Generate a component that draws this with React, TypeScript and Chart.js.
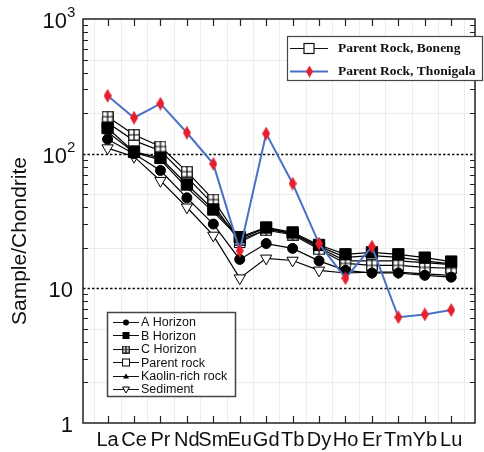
import React, { useEffect, useRef } from "react";
import { Chart, registerables } from "chart.js";

Chart.register(...registerables);

const elements = ["La", "Ce", "Pr", "Nd", "Sm", "Eu", "Gd", "Tb", "Dy", "Ho", "Er", "Tm", "Yb", "Lu"];

const aHorizon = [128, 100, 75, 47, 30, 16.4, 21.5, 19.8, 16, 13.6, 13, 13, 12.5, 12.1];
const bHorizon = [155, 103, 93, 59, 38.5, 24, 28.3, 26, 21, 17.9, 18.5, 17.9, 16.9, 15.8];
const cHorizon = [188, 138, 113, 73.5, 45.6, 23, 27, 25, 19.5, 15.3, 14.8, 14.8, 14.3, 14.1];
const parentRock = [170, 125, 105, 67, 42, 22, 27.5, 25.5, 20, 16, 16, 16, 15.5, 15];
const kaolinRich = [145, 102, 90, 56, 37, 23.5, 28, 25.5, 20.5, 17, 17.5, 17, 16, 15.2];
const sediment = [110, 95, 63, 40, 24.7, 11.9, 16.7, 16.1, 13.6, 13, 13.2, 13.2, 12.8, 12.5];
const thonigala = [269, 185, 235, 143, 84, 19, 141, 60, 21.5, 11.9, 20.4, 6.1, 6.4, 6.9];

const yTickValues = [1, 10, 100, 1000];
const yTickBases = ["1", "10", "10", "10"];
const yTickSups = ["", "", "2", "3"];
const dottedLevels = [10, 100];

const legend1Labels = ["Parent Rock, Boneng", "Parent Rock, Thonigala"];
const legend2Labels = ["A Horizon", "B Horizon", "C Horizon", "Parent rock", "Kaolin-rich rock", "Sediment"];

const BLUE = "rgb(74,114,196)";
const RED = "rgb(232,30,45)";

function makeCanvas(w: number, h: number, draw: (c: CanvasRenderingContext2D) => void) {
  const c = document.createElement("canvas");
  c.width = w;
  c.height = h;
  const ctx = c.getContext("2d")!;
  draw(ctx);
  return c;
}

function diamond(w: number, h: number) {
  return makeCanvas(w, h, (c) => {
    c.fillStyle = RED;
    c.beginPath();
    c.moveTo(w / 2, 0);
    c.lineTo(w, h / 2);
    c.lineTo(w / 2, h);
    c.lineTo(0, h / 2);
    c.closePath();
    c.fill();
  });
}

function crossSquare(s: number) {
  return makeCanvas(s, s, (c) => {
    c.fillStyle = "#fff";
    c.fillRect(0.5, 0.5, s - 1, s - 1);
    c.strokeStyle = "#000";
    c.lineWidth = 1.2;
    c.strokeRect(0.75, 0.75, s - 1.5, s - 1.5);
    c.beginPath();
    c.moveTo(s / 2, 0.75);
    c.lineTo(s / 2, s - 0.75);
    c.moveTo(0.75, s / 2);
    c.lineTo(s - 0.75, s / 2);
    c.stroke();
  });
}

export default function App() {
  const ref = useRef<HTMLCanvasElement | null>(null);

  useEffect(() => {
    document.body.style.margin = "0";
    const canvas = ref.current!;
    const diamondBig = diamond(8, 14);
    const diamondSmall = diamond(7, 12);
    const crossBig = crossSquare(12);
    const crossSmall = crossSquare(8);

    const pts = (arr: number[]) => arr.map((v, i) => ({ x: i, y: v }));

    const drawMarker = (
      ctx: CanvasRenderingContext2D,
      kind: string,
      x: number,
      y: number,
      s: number
    ) => {
      ctx.save();
      ctx.strokeStyle = "#000";
      ctx.fillStyle = "#000";
      ctx.lineWidth = 1;
      ctx.beginPath();
      if (kind === "circle") {
        ctx.arc(x, y, s / 2, 0, Math.PI * 2);
        ctx.fill();
      } else if (kind === "fsquare") {
        ctx.fillRect(x - s / 2, y - s / 2, s, s);
      } else if (kind === "osquare") {
        ctx.fillStyle = "#fff";
        ctx.fillRect(x - s / 2, y - s / 2, s, s);
        ctx.strokeRect(x - s / 2, y - s / 2, s, s);
      } else if (kind === "cross") {
        ctx.drawImage(crossSmall, x - 4, y - 4);
      } else if (kind === "tri") {
        ctx.moveTo(x, y - s / 2);
        ctx.lineTo(x + s / 2, y + s / 2 - 1);
        ctx.lineTo(x - s / 2, y + s / 2 - 1);
        ctx.closePath();
        ctx.fill();
      } else if (kind === "dtri") {
        ctx.fillStyle = "#fff";
        ctx.moveTo(x - s / 2, y - s / 2 + 1);
        ctx.lineTo(x + s / 2, y - s / 2 + 1);
        ctx.lineTo(x, y + s / 2);
        ctx.closePath();
        ctx.fill();
        ctx.stroke();
      }
      ctx.restore();
    };

    const decor = {
      id: "decor",
      beforeDraw(chart: any) {
        const { ctx, chartArea: a, scales } = chart;
        const xs = scales.x;
        const ys = scales.y;
        ctx.save();
        ctx.fillStyle = "#fff";
        ctx.fillRect(0, 0, chart.width, chart.height);
        // faint background grid
        ctx.strokeStyle = "#ececec";
        ctx.lineWidth = 1;
        for (let i = -0.5; i <= 13.5; i += 1) {
          const px = Math.round(xs.getPixelForValue(i)) + 0.5;
          ctx.beginPath();
          ctx.moveTo(px, a.top);
          ctx.lineTo(px, a.bottom);
          ctx.stroke();
        }
        for (const d of [1, 10, 100]) {
          for (const m of [2, 5]) {
            const py = Math.round(ys.getPixelForValue(m * d)) + 0.5;
            ctx.beginPath();
            ctx.moveTo(a.left, py);
            ctx.lineTo(a.right, py);
            ctx.stroke();
          }
        }
        ctx.restore();
      },
      beforeDatasetsDraw(chart: any) {
        const { ctx, chartArea: a, scales } = chart;
        ctx.save();
        ctx.strokeStyle = "#111";
        ctx.lineWidth = 1.6;
        ctx.setLineDash([2.5, 2]);
        for (const v of dottedLevels) {
          const py = Math.round(scales.y.getPixelForValue(v)) + 0.5;
          ctx.beginPath();
          ctx.moveTo(a.left, py);
          ctx.lineTo(a.right, py);
          ctx.stroke();
        }
        ctx.restore();
      },
      afterDatasetsDraw(chart: any) {
        const { ctx, chartArea: a, scales } = chart;
        const xs = scales.x;
        const ys = scales.y;
        ctx.save();
        // frame
        ctx.strokeStyle = "#222";
        ctx.lineWidth = 1.5;
        ctx.strokeRect(a.left, a.top, a.right - a.left, a.bottom - a.top);
        // category ticks top & bottom
        ctx.lineWidth = 1.2;
        elements.forEach((_, i) => {
          const px = Math.round(xs.getPixelForValue(i)) + 0.5;
          ctx.beginPath();
          ctx.moveTo(px, a.top);
          ctx.lineTo(px, a.top + 7);
          ctx.moveTo(px, a.bottom);
          ctx.lineTo(px, a.bottom - 7);
          ctx.stroke();
        });
        // minor log ticks on left and right
        ctx.lineWidth = 1;
        for (const d of [1, 10, 100]) {
          for (let m = 2; m <= 9; m++) {
            const py = Math.round(ys.getPixelForValue(m * d)) + 0.5;
            ctx.beginPath();
            ctx.moveTo(a.left, py);
            ctx.lineTo(a.left + 5, py);
            ctx.moveTo(a.right, py);
            ctx.lineTo(a.right - 5, py);
            ctx.stroke();
          }
        }
        // x labels
        ctx.fillStyle = "#111";
        ctx.font = "20px 'Liberation Sans', Arial, sans-serif";
        ctx.textAlign = "center";
        ctx.textBaseline = "alphabetic";
        elements.forEach((el, i) => {
          ctx.fillText(el, xs.getPixelForValue(i), a.bottom + 23);
        });
        // y labels
        yTickValues.forEach((v, i) => {
          const py = ys.getPixelForValue(v);
          ctx.textBaseline = "middle";
          ctx.textAlign = "right";
          ctx.font = "22px 'Liberation Sans', Arial, sans-serif";
          if (yTickSups[i]) {
            ctx.fillText(yTickBases[i], 67, py + 3);
            ctx.textAlign = "left";
            ctx.font = "15px 'Liberation Sans', Arial, sans-serif";
            ctx.fillText(yTickSups[i], 67, py - 6);
          } else {
            ctx.fillText(yTickBases[i], 73, py + 3);
          }
        });
        // y title
        ctx.save();
        ctx.translate(20, 241);
        ctx.rotate(-Math.PI / 2);
        ctx.textAlign = "center";
        ctx.textBaseline = "middle";
        ctx.font = "21px 'Liberation Sans', Arial, sans-serif";
        ctx.fillText("Sample/Chondrite", 0, 0);
        ctx.restore();

        // legend 1
        ctx.fillStyle = "#fff";
        ctx.fillRect(287.5, 36.5, 195, 44);
        ctx.strokeStyle = "#444";
        ctx.lineWidth = 1.2;
        ctx.strokeRect(287.5, 36.5, 195, 44);
        // entry 1
        ctx.strokeStyle = "#111";
        ctx.lineWidth = 1.2;
        ctx.beginPath();
        ctx.moveTo(290, 48.5);
        ctx.lineTo(328, 48.5);
        ctx.stroke();
        ctx.fillStyle = "#fff";
        ctx.fillRect(304, 43.5, 10, 10);
        ctx.strokeRect(304, 43.5, 10, 10);
        // entry 2
        ctx.strokeStyle = BLUE;
        ctx.lineWidth = 2;
        ctx.beginPath();
        ctx.moveTo(290, 71.5);
        ctx.lineTo(328, 71.5);
        ctx.stroke();
        ctx.drawImage(diamondSmall, 306, 65.5);
        ctx.fillStyle = "#111";
        ctx.font = "bold 13.5px 'Liberation Serif', 'Times New Roman', serif";
        ctx.textAlign = "left";
        ctx.textBaseline = "middle";
        ctx.fillText(legend1Labels[0], 338, 49);
        ctx.fillText(legend1Labels[1], 338, 72);

        // legend 2
        ctx.fillStyle = "#fff";
        ctx.fillRect(107.5, 312.5, 128, 84);
        ctx.strokeStyle = "#444";
        ctx.lineWidth = 1.5;
        ctx.strokeRect(107.5, 312.5, 128, 84);
        const kinds = ["circle", "fsquare", "cross", "osquare", "tri", "dtri"];
        const sizes = [6, 7, 8, 7, 6, 7];
        ctx.font = "12.5px 'Liberation Sans', Arial, sans-serif";
        legend2Labels.forEach((lab, k) => {
          const y = 322 + k * 13.4;
          ctx.strokeStyle = "#111";
          ctx.lineWidth = 1;
          ctx.beginPath();
          ctx.moveTo(113, Math.round(y) + 0.5);
          ctx.lineTo(139, Math.round(y) + 0.5);
          ctx.stroke();
          drawMarker(ctx, kinds[k], 126, Math.round(y) + 0.5, sizes[k]);
          ctx.fillStyle = "#111";
          ctx.textAlign = "left";
          ctx.textBaseline = "middle";
          ctx.fillText(lab, 141, y + 1);
        });
        ctx.restore();
      },
    };

    const blackLine = {
      borderColor: "#000",
      borderWidth: 1.2,
      pointBorderColor: "#000",
      pointBorderWidth: 1,
      tension: 0,
    };

    const chart = new Chart(canvas, {
      type: "line",
      data: {
        datasets: [
          {
            label: "Parent Rock, Thonigala",
            data: pts(thonigala),
            borderColor: BLUE,
            borderWidth: 2,
            pointStyle: diamondBig as any,
            tension: 0,
          },
          {
            ...blackLine,
            label: "A Horizon",
            data: pts(aHorizon),
            pointStyle: "circle",
            pointRadius: 5,
            pointBackgroundColor: "#000",
          },
          {
            ...blackLine,
            label: "B Horizon",
            data: pts(bHorizon),
            pointStyle: "rect",
            pointRadius: 8,
            pointBackgroundColor: "#000",
          },
          {
            ...blackLine,
            label: "C Horizon",
            data: pts(cHorizon),
            pointStyle: crossBig as any,
          },
          {
            ...blackLine,
            label: "Parent rock",
            data: pts(parentRock),
            pointStyle: "rect",
            pointRadius: 7.5,
            pointBackgroundColor: "#fff",
          },
          {
            ...blackLine,
            label: "Kaolin-rich rock",
            data: pts(kaolinRich),
            pointStyle: "triangle",
            pointRadius: 4,
            pointBackgroundColor: "#000",
          },
          {
            ...blackLine,
            label: "Sediment",
            data: pts(sediment),
            pointStyle: "triangle",
            pointRotation: 180,
            pointRadius: 6.5,
            pointBackgroundColor: "#fff",
          },
        ] as any,
      },
      options: {
        responsive: false,
        animation: false,
        devicePixelRatio: 1,
        layout: { padding: { left: 83, right: 2, top: 19, bottom: 29 } },
        plugins: { legend: { display: false }, tooltip: { enabled: false } },
        scales: {
          x: { type: "linear", min: -0.93, max: 13.9, display: false },
          y: { type: "logarithmic", min: 1, max: 1000, display: false },
        },
      },
      plugins: [decor],
    });
    return () => chart.destroy();
  }, []);

  return <canvas ref={ref} width={484} height={452} style={{ display: "block" }} />;
}
